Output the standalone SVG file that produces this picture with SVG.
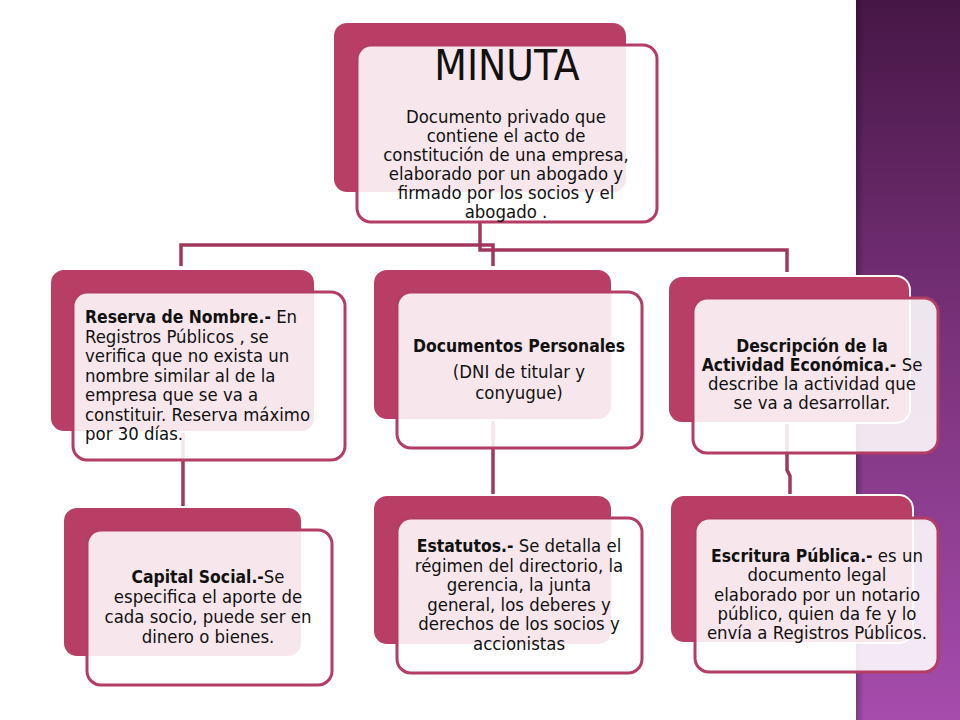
<svg xmlns="http://www.w3.org/2000/svg" width="960" height="720" viewBox="0 0 960 720">
<defs>
<linearGradient id="strip" x1="0" y1="0" x2="0" y2="1">
<stop offset="0" stop-color="#461746"/>
<stop offset="0.45" stop-color="#783178"/>
<stop offset="1" stop-color="#a64cad"/>
</linearGradient>
<linearGradient id="edge" x1="0" y1="0" x2="1" y2="0">
<stop offset="0" stop-color="#000" stop-opacity="0.25"/>
<stop offset="1" stop-color="#000" stop-opacity="0"/>
</linearGradient>
</defs>
<style>
.back{fill:#b83e66;stroke:#ffffff;stroke-width:2}
.front{fill:#ffffff;fill-opacity:0.88;stroke:#b33d64;stroke-width:3}
.conn{fill:none;stroke:#a0385d;stroke-width:3.5}
text{font-family:"DejaVu Sans Condensed","DejaVu Sans",sans-serif;font-size:18.4px;fill:#111}
.c{text-anchor:middle}
.b{font-weight:bold;font-size:17.4px}
.title{font-size:42px}
</style>
<rect x="0" y="0" width="960" height="720" fill="#ffffff"/>
<rect x="856" y="0" width="104" height="720" fill="url(#strip)"/>
<rect x="856" y="0" width="8" height="720" fill="url(#edge)"/>

<g id="connectors">
<path class="conn" d="M181,266 V245 H493 V266"/>
<path class="conn" d="M480,222 V250 H787 V272"/>
<path class="conn" d="M183,300 V508"/>
<path class="conn" d="M493,300 V496"/>
<path class="conn" d="M787,420 V470 L790,476 V496"/>
</g>

<g id="minuta">
<rect class="back" x="333" y="22" width="294" height="171" rx="14"/>
<rect class="front" x="357" y="45" width="300" height="177" rx="14"/>
<text class="c title" x="507" y="80">MINUTA</text>
<text class="c" x="506"><tspan x="506" y="123">Documento privado que</tspan><tspan x="506" y="142">contiene el acto de</tspan><tspan x="506" y="161">constitución de una empresa,</tspan><tspan x="506" y="180">elaborado por un abogado y</tspan><tspan x="506" y="199">firmado por los socios y el</tspan><tspan x="506" y="218">abogado .</tspan></text>
</g>

<g id="reserva">
<rect class="back" x="50" y="269" width="265" height="163" rx="14"/>
<rect class="front" x="73" y="292" width="272" height="168" rx="14"/>
<text x="85"><tspan x="85" y="323"><tspan class="b">Reserva de Nombre.-</tspan> En</tspan><tspan x="85" y="342.5">Registros Públicos , se</tspan><tspan x="85" y="362">verifica que no exista un</tspan><tspan x="85" y="381.5">nombre similar al de la</tspan><tspan x="85" y="401">empresa que se va a</tspan><tspan x="85" y="420.5">constituir. Reserva máximo</tspan><tspan x="85" y="440">por 30 días.</tspan></text>
</g>

<g id="documentos">
<rect class="back" x="373" y="269" width="239" height="151" rx="14"/>
<rect class="front" x="397" y="292" width="245" height="156" rx="14"/>
<text class="c b" x="519" y="352">Documentos Personales</text>
<text class="c"><tspan x="519" y="378">(DNI de titular y</tspan><tspan x="519" y="399">conyugue)</tspan></text>
</g>

<g id="descripcion">
<rect class="back" x="668" y="276" width="242" height="147" rx="14"/>
<rect class="front" x="693" y="298" width="245" height="155" rx="14"/>
<text class="c"><tspan class="b" x="812" y="352">Descripción de la</tspan><tspan x="812" y="371"><tspan class="b">Actividad Económica.-</tspan> Se</tspan><tspan x="812" y="390">describe la actividad que</tspan><tspan x="812" y="409">se va a desarrollar.</tspan></text>
</g>

<g id="capital">
<rect class="back" x="63" y="507" width="239" height="150" rx="14"/>
<rect class="front" x="87" y="530" width="245" height="155" rx="14"/>
<text class="c"><tspan x="208" y="583"><tspan class="b">Capital Social.-</tspan>Se</tspan><tspan x="208" y="603">especifica el aporte de</tspan><tspan x="208" y="623">cada socio, puede ser en</tspan><tspan x="208" y="643">dinero o bienes.</tspan></text>
</g>

<g id="estatutos">
<rect class="back" x="373" y="495" width="239" height="150" rx="14"/>
<rect class="front" x="397" y="518" width="245" height="155" rx="14"/>
<text class="c"><tspan x="519" y="552"><tspan class="b">Estatutos.-</tspan> Se detalla el</tspan><tspan x="519" y="571.5">régimen del directorio, la</tspan><tspan x="519" y="591">gerencia, la junta</tspan><tspan x="519" y="610.5">general, los deberes y</tspan><tspan x="519" y="630">derechos de los socios y</tspan><tspan x="519" y="649.5">accionistas</tspan></text>
</g>

<g id="escritura">
<rect class="back" x="670" y="495" width="243" height="148" rx="14"/>
<rect class="front" x="695" y="518" width="243" height="154" rx="14"/>
<text class="c"><tspan x="817" y="562"><tspan class="b">Escritura Pública.-</tspan> es un</tspan><tspan x="817" y="581">documento legal</tspan><tspan x="817" y="600.5">elaborado por un notario</tspan><tspan x="817" y="620">público, quien da fe y lo</tspan><tspan x="817" y="639">envía a Registros Públicos.</tspan></text>
</g>
</svg>
